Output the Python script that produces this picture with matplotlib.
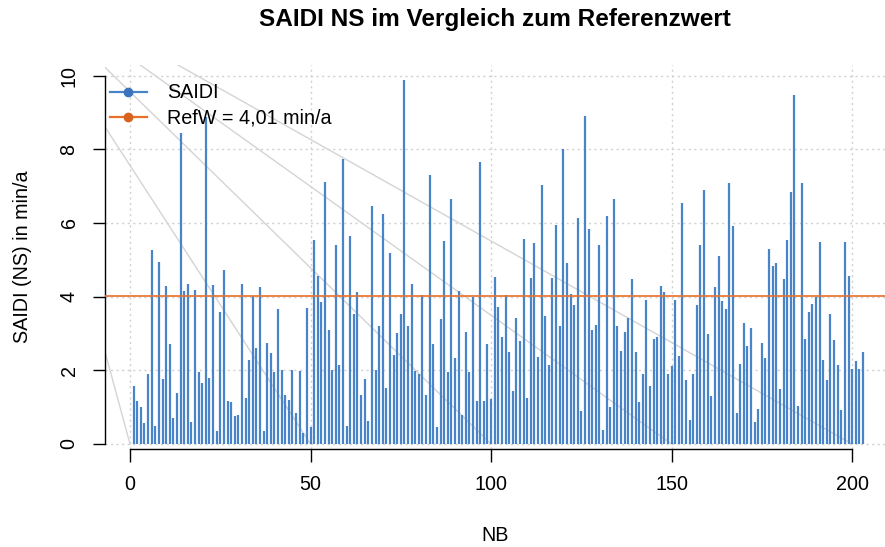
import numpy as np
import matplotlib
matplotlib.use("Agg")
import matplotlib.pyplot as plt
from matplotlib.lines import Line2D

plt.rcParams['font.family'] = ['Liberation Sans', 'DejaVu Sans']

# -------------------------------
# Data
# -------------------------------
saidi = [
    1.57, 1.18, 1.01, 0.56, 1.91, 5.27, 0.49, 4.94, 1.76, 4.29,
    2.71, 0.70, 1.39, 8.45, 4.14, 4.33, 0.61, 4.18, 1.95, 1.65,
    8.88, 1.78, 4.32, 0.35, 3.59, 4.71, 1.18, 1.14, 0.76, 0.80,
    4.33, 1.25, 2.28, 4.02, 2.60, 4.25, 0.36, 2.73, 2.46, 1.96,
    3.67, 2.01, 1.33, 1.19, 2.01, 0.85, 1.99, 0.29, 3.70, 0.47,
    5.54, 4.57, 3.85, 7.12, 3.09, 2.01, 5.40, 2.14, 7.73, 0.49,
    5.65, 3.53, 4.13, 1.32, 1.76, 0.62, 6.46, 2.01, 3.19, 6.24,
    1.53, 5.19, 2.42, 3.01, 3.53, 9.88, 3.19, 4.33, 1.98, 1.91,
    4.04, 1.33, 7.30, 2.71, 0.45, 3.39, 5.50, 1.95, 6.64, 2.33,
    4.15, 0.80, 3.04, 1.95, 4.00, 1.18, 7.65, 1.18, 2.71, 1.21,
    4.53, 3.73, 2.89, 4.05, 2.49, 1.45, 3.42, 2.80, 5.56, 1.24,
    4.50, 5.46, 2.35, 7.02, 3.46, 2.14, 4.50, 5.95, 3.19, 8.01,
    4.91, 4.08, 3.77, 6.13, 0.90, 8.89, 5.84, 3.08, 3.22, 5.40,
    0.38, 6.20, 1.01, 6.64, 3.19, 2.52, 3.04, 3.42, 4.47, 2.49,
    1.14, 1.91, 3.91, 1.57, 2.84, 2.89, 4.29, 4.12, 1.91, 2.12,
    3.91, 2.40, 6.53, 1.74, 0.65, 1.91, 3.77, 5.40, 6.89, 2.98,
    1.29, 4.25, 5.09, 3.88, 3.67, 7.08, 5.92, 0.83, 2.18, 3.28,
    2.67, 3.16, 0.60, 0.94, 2.74, 2.33, 5.29, 4.84, 4.91, 1.49,
    4.47, 5.54, 6.84, 9.47, 1.04, 7.09, 2.84, 3.59, 3.80, 4.00,
    5.49, 2.28, 1.74, 3.53, 2.81, 2.14, 0.93, 5.49, 4.57, 2.04,
    2.25, 2.04, 2.49,
]
nb = np.arange(1, len(saidi) + 1)
refw = 4.01

x_ticks = [0, 50, 100, 150, 200]
y_ticks = [0, 2, 4, 6, 8, 10]

# background guide lines (from a common point down to the x ticks)
guide_start = (-36, 13)
guide_ends = [0, 50, 100, 150, 200]

blue = "#4a84c8"
orange = "#e8702a"
grid_col = "#d0d0d0"
fs = 14.2

# -------------------------------
# Plot
# -------------------------------
fig = plt.figure(figsize=(8.85, 5.47), dpi=100)
ax = fig.add_axes([105 / 885, 98 / 547, 780 / 885, 384 / 547])

ax.set_xlim(-6.93, 209.1)
ax.set_ylim(-0.136, 10.285)

for xe in guide_ends:
    ax.plot([guide_start[0], xe], [guide_start[1], 0], color="#d4d4d4",
            lw=1.0, zorder=1)

for xt in x_ticks:
    ax.axvline(xt, color=grid_col, lw=1.0, ls=(0, (1.5, 2.5)), zorder=0)
for yt in y_ticks:
    ax.axhline(yt, color=grid_col, lw=1.0, ls=(0, (1.5, 2.5)), zorder=0)

ax.vlines(nb, 0, saidi, color=blue, lw=1.6, zorder=2)
ax.axhline(refw, color=orange, lw=1.2, zorder=3)

# axes in R style
for s in ["top", "right"]:
    ax.spines[s].set_visible(False)
ax.spines["left"].set_bounds(0, 10)
ax.spines["bottom"].set_bounds(0, 200)
ax.spines["left"].set_linewidth(1.0)
ax.spines["bottom"].set_linewidth(1.0)

ax.set_xticks(x_ticks)
ax.set_yticks(y_ticks)
ax.set_xticklabels([str(v) for v in x_ticks], fontsize=fs)
ax.set_yticklabels([str(v) for v in y_ticks], fontsize=fs, rotation=90,
                   va="center")
ax.tick_params(axis="both", length=9, width=1.0, pad=10)

ax.set_xlabel("NB", fontsize=fs, labelpad=23)
ax.set_ylabel("SAIDI (NS) in min/a", fontsize=fs, labelpad=20)
ax.set_title("SAIDI NS im Vergleich zum Referenzwert", fontsize=17.6,
             fontweight="bold", pad=28)

handles = [
    Line2D([], [], color=blue, lw=1.6, marker="o", markersize=6,
           markerfacecolor="#3a74bd", markeredgecolor="#3a74bd"),
    Line2D([], [], color=orange, lw=1.6, marker="o", markersize=6,
           markerfacecolor="#d9621e", markeredgecolor="#d9621e"),
]
ax.legend(handles, ["SAIDI", "RefW = 4,01 min/a"], loc="upper left",
          bbox_to_anchor=(0.006, 0.952), frameon=False, fontsize=fs,
          handlelength=1.9, handletextpad=1.0, labelspacing=0.32,
          borderpad=0, borderaxespad=0)

fig.savefig("out.png", dpi=100)
